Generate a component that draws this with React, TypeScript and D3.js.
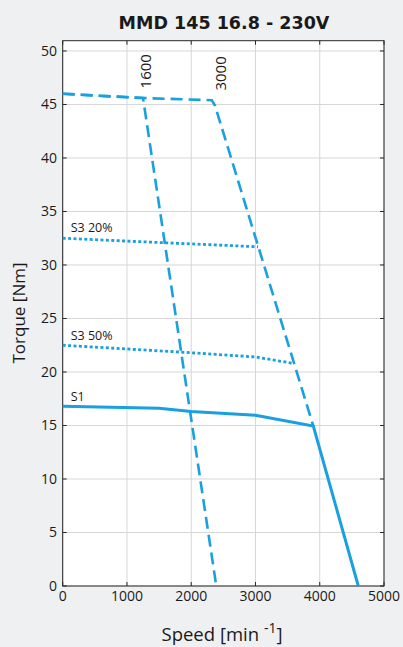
import React from "react";
import * as d3 from "d3";

const W = 403;
const H = 647;

const title = "MMD 145 16.8 - 230V";
const speedTicks = [0, 1000, 2000, 3000, 4000, 5000];
const torqueTicks = [0, 5, 10, 15, 20, 25, 30, 35, 40, 45, 50];

// S1 continuous curve
const s1Speed = [0, 1500, 2000, 3000, 3900, 4600];
const s1Torque = [16.8, 16.6, 16.3, 15.95, 14.95, 0];
// S3 50%
const s350Speed = [0, 2000, 3000, 3600];
const s350Torque = [22.5, 21.8, 21.4, 20.8];
// S3 20%
const s320Speed = [0, 1500, 3040];
const s320Torque = [32.5, 32.1, 31.7];
// Voltage limit 1600
const v1600Speed = [0, 1250, 2390];
const v1600Torque = [46.0, 45.6, 0];
// Voltage limit 3000
const v3000Speed = [0, 1250, 2320, 2370, 3900];
const v3000Torque = [46.0, 45.6, 45.4, 44.9, 14.95];

const curveLabels = ["S1", "S3 50%", "S3 20%"];
const curveLabelTorque = [17.3, 23.0, 33.1];
const limitLabels = ["1600", "3000"];
const limitLabelSpeed = [1370, 2535];
const limitLabelTorque = [46.5, 46.3];

const blue = "#1aa0e0";

export default function App() {
  const left = 62.7, right = 384, top = 40.7, bottom = 586;
  const x = d3.scaleLinear().domain([0, 5000]).range([left, right]);
  const y = d3.scaleLinear().domain([0, 50.96]).range([bottom, top]);
  const line = (xs: number[], ys: number[]) =>
    d3.line<number>().x((_, i) => x(xs[i])).y((_, i) => y(ys[i]))(xs.map((_, i) => i)) || "";

  const tickFont = "'Open Sans', sans-serif";

  return (
    <svg width={W} height={H} style={{ position: "absolute", left: 0, top: 0 }}>
      <rect x={0} y={0} width={W} height={H} fill="#eff0f1" />
      <rect x={left} y={top} width={right - left} height={bottom - top} fill="#ffffff" />
      {/* grid */}
      {speedTicks.map((t) => (
        <line key={"gx" + t} x1={x(t)} x2={x(t)} y1={top} y2={bottom} stroke="#d6d6d6" strokeWidth={1} />
      ))}
      {torqueTicks.map((t) => (
        <line key={"gy" + t} x1={left} x2={right} y1={y(t)} y2={y(t)} stroke="#d6d6d6" strokeWidth={1} />
      ))}
      {/* ticks */}
      {speedTicks.map((t) => (
        <g key={"tx" + t}>
          <line x1={x(t)} x2={x(t)} y1={bottom} y2={bottom - 4} stroke="#262626" />
          <line x1={x(t)} x2={x(t)} y1={top} y2={top + 4} stroke="#262626" />
          <text x={x(t)} y={601} fontSize={14} fontFamily={tickFont} textAnchor="middle" fill="#1a1a1a">
            {t}
          </text>
        </g>
      ))}
      {torqueTicks.map((t) => (
        <g key={"ty" + t}>
          <line x1={left} x2={left + 4} y1={y(t)} y2={y(t)} stroke="#262626" />
          <line x1={right} x2={right - 4} y1={y(t)} y2={y(t)} stroke="#262626" />
          <text x={57} y={y(t) + 5} fontSize={14} fontFamily={tickFont} textAnchor="end" fill="#1a1a1a">
            {t}
          </text>
        </g>
      ))}
      <rect x={left} y={top} width={right - left} height={bottom - top} fill="none" stroke="#262626" strokeWidth={1} />
      {/* curves */}
      <path d={line(v1600Speed, v1600Torque)} fill="none" stroke={blue} strokeWidth={2.6} strokeDasharray="12,6" />
      <path d={line(v3000Speed, v3000Torque)} fill="none" stroke={blue} strokeWidth={2.6} strokeDasharray="12,6" />
      <path d={line(s320Speed, s320Torque)} fill="none" stroke={blue} strokeWidth={2.8} strokeDasharray="3,2.4" />
      <path d={line(s350Speed, s350Torque)} fill="none" stroke={blue} strokeWidth={2.8} strokeDasharray="3,2.4" />
      <path d={line(s1Speed, s1Torque)} fill="none" stroke={blue} strokeWidth={3} />
      {/* curve labels */}
      {curveLabels.map((l, i) => (
        <text key={l} x={x(0) + 8} y={y(curveLabelTorque[i])} fontSize={12.5} fontFamily={tickFont} fill="#1a1a1a">
          {l}
        </text>
      ))}
      {limitLabels.map((l, i) => (
        <text
          key={l}
          transform={`translate(${x(limitLabelSpeed[i])},${y(limitLabelTorque[i])}) rotate(-90)`}
          fontSize={15}
          fontFamily={tickFont}
          fill="#1a1a1a"
        >
          {l}
        </text>
      ))}
      {/* title */}
      <text x={224} y={29} fontSize={17.5} fontWeight="bold" fontFamily="'DejaVu Sans', sans-serif" textAnchor="middle" fill="#1a1a1a">
        {title}
      </text>
      {/* axis titles */}
      <text x={222} y={641} fontSize={18.5} fontFamily={tickFont} textAnchor="middle" fill="#1a1a1a">
        Speed [min <tspan dy={-8} fontSize={14}>-1</tspan>
        <tspan dy={8}>]</tspan>
      </text>
      <text
        transform={`translate(25,313) rotate(-90)`}
        fontSize={17}
        fontFamily={tickFont}
        textAnchor="middle"
        fill="#1a1a1a"
      >
        Torque [Nm]
      </text>
    </svg>
  );
}
